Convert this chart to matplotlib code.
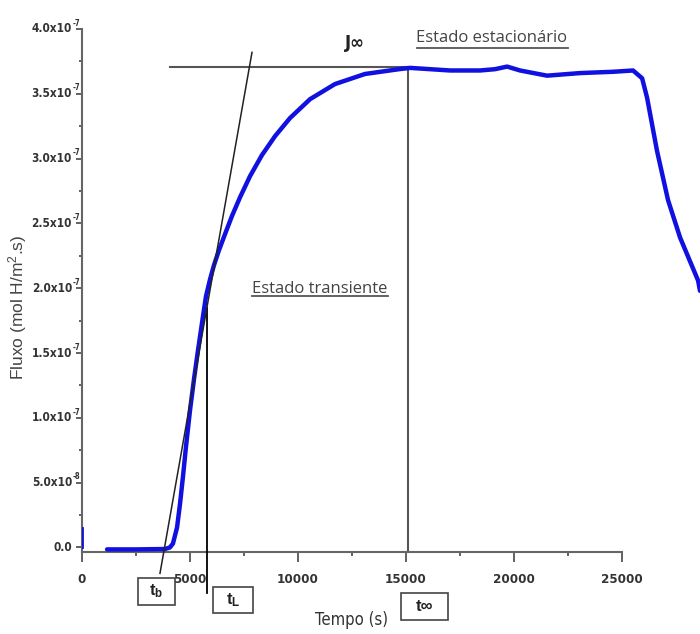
import matplotlib
matplotlib.use("Agg")
import matplotlib.pyplot as plt
from matplotlib import font_manager as fm
from matplotlib.font_manager import FontProperties
from matplotlib.lines import Line2D
from matplotlib.patches import Rectangle
from matplotlib.transforms import blended_transform_factory

plt.rcParams["mathtext.default"] = "regular"

# procura uma fonte estreita (narrow / condensed); senao usa Liberation Sans menor
estreitas = [f for f in fm.fontManager.ttflist
             if f.style == "normal" and ("Narrow" in f.name or "Condensed" in f.name
                 or f.stretch in ("condensed", "semi-condensed", "extra-condensed"))]
negrito = [f for f in estreitas if f.weight in ("bold", 700, "semibold", 600)]
normal = [f for f in estreitas if f.weight in ("normal", 400, "regular")]
if negrito:
    fp_tick = FontProperties(fname=negrito[0].fname, size=9.5)
    fp_ytick = FontProperties(fname=negrito[0].fname, size=8.5)
    fp_exp = FontProperties(fname=negrito[0].fname, size=5.5)
else:
    fp_tick = FontProperties(family="Liberation Sans", weight="bold", size=8.5)
    fp_ytick = FontProperties(family="Liberation Sans", weight="bold", size=7.5)
    fp_exp = FontProperties(family="Liberation Sans", weight="bold", size=5)
if normal:
    fp_eixo = FontProperties(fname=normal[0].fname, size=12)
else:
    fp_eixo = FontProperties(family="Liberation Sans", size=11)

# dados (tempo em s, fluxo em 1e-7 mol H/m2.s)
tempo = [1160, 2500, 3840, 4070, 4210, 4400, 4540, 4680, 4820, 5000, 5190, 5370,
         5560, 5740, 5930, 6110, 6340, 6620, 6940, 7320, 7780, 8330, 8940, 9630,
         10560, 11710, 13100, 14720, 15190, 17040, 18430, 19120, 19680, 20280,
         21530, 23060, 24590, 25510, 25930, 26160, 26620, 27130, 27690, 28520,
         28610]
fluxo = [-0.015, -0.015, -0.012, 0.0, 0.03, 0.154, 0.34, 0.556, 0.788, 1.058,
         1.305, 1.521, 1.737, 1.938, 2.070, 2.178, 2.293, 2.417, 2.556, 2.703,
         2.865, 3.027, 3.174, 3.313, 3.459, 3.575, 3.653, 3.691, 3.70, 3.68, 3.68,
         3.69, 3.71, 3.68, 3.64, 3.66, 3.67, 3.68, 3.62, 3.47, 3.06, 2.68, 2.39,
         2.06, 1.98]
fluxo = [v * 1e-7 for v in fluxo]
# pequeno trecho no inicio (t = 0)
tempo_ini = [0, 0]
fluxo_ini = [0.0, 0.15e-7]

# linhas de construcao
j_inf = 3.71e-7
t_inf = 15100
t_lag = 5790
tang_t = [3610, 7870]
tang_j = [-0.2e-7, 3.82e-7]

xticks = [0, 5000, 10000, 15000, 20000, 25000]
xlabels = ["0", "5000", "10000", "15000", "20000", "25000"]
yticks = [0, 0.5e-7, 1.0e-7, 1.5e-7, 2.0e-7, 2.5e-7, 3.0e-7, 3.5e-7, 4.0e-7]
ylabels = ["0.0", "5.0x10", "1.0x10", "1.5x10", "2.0x10", "2.5x10", "3.0x10",
           "3.5x10", "4.0x10"]
yexpoentes = ["", "-8", "-7", "-7", "-7", "-7", "-7", "-7", "-7"]

fig = plt.figure(figsize=(7, 6.34), dpi=100)
ax = fig.add_axes([82 / 700, 82 / 634, 618 / 700, 523 / 634])
ax.set_xlim(0, 28610)
ax.set_ylim(-0.035e-7, 4.0e-7)

azul = "#1010e0"
ax.plot(tempo, fluxo, color=azul, lw=3.2, solid_capstyle="round", zorder=3)
ax.plot(tempo_ini, fluxo_ini, color=azul, lw=2, zorder=3)

cinza = "#555555"
ax.plot([4070, t_inf], [j_inf, j_inf], color=cinza, lw=1.5, zorder=2)
ax.plot([t_inf, t_inf], [ax.get_ylim()[0], j_inf], color=cinza, lw=1.5, zorder=2)
ax.plot([t_lag, t_lag], [-0.35e-7, 1.85e-7], color="black", lw=1.3, zorder=4, clip_on=False)
ax.plot(tang_t, tang_j, color="#222222", lw=1.1, zorder=4, clip_on=False)

# eixos
for s in ["top", "right"]:
    ax.spines[s].set_visible(False)
for s in ["left", "bottom"]:
    ax.spines[s].set_color("#666666")
    ax.spines[s].set_linewidth(1.5)
ax.spines["bottom"].set_bounds(0, 25000)

ax.set_xticks(xticks)
ax.set_xticklabels(xlabels)
ax.set_xticks([2500, 7500, 12500, 17500, 22500], minor=True)
ax.set_yticks(yticks)
ax.set_yticklabels([])
ax.set_yticks([v + 0.25e-7 for v in yticks[:-1]], minor=True)
ax.tick_params(axis="x", which="major", length=7, width=1.3, color=cinza, pad=8)
ax.tick_params(axis="x", which="minor", length=3, width=1.3, color=cinza)
ax.tick_params(axis="y", which="major", length=4, width=1.3, color=cinza, pad=4)
ax.tick_params(axis="y", which="minor", length=2, width=1.3, color=cinza)
for lab in ax.get_xticklabels():
    lab.set_fontproperties(fp_tick)
    lab.set_color("#333333")

# rotulos do eixo y: mantissa + expoente pequeno
tr = blended_transform_factory(fig.transFigure, ax.transData)
for v, base, ex in zip(yticks, ylabels, yexpoentes):
    ax.text(72 / 700, v, base, transform=tr, ha="right", va="center",
            fontproperties=fp_ytick, color="#333333")
    if ex:
        ax.text(72.5 / 700, v + 0.045e-7, ex, transform=tr, ha="left",
                va="center", fontproperties=fp_exp, color="#333333")

fig.text(18 / 700, 1 - 307 / 634, "Fluxo (mol H/m$^{2}$.s)", rotation=90,
         ha="center", va="center", fontsize=12.5, color="#444444",
         family="Liberation Sans")
fig.text(352 / 700, 1 - 620 / 634, "Tempo (s)", ha="center", va="center",
         fontproperties=fp_eixo, color="#333333")

fig.text(355 / 700, 1 - 43 / 634, "J\u221e", ha="center", va="center",
         fontsize=12, fontweight="bold", color="#222222", family="DejaVu Sans")

# textos sublinhados
fig.canvas.draw()
renderer = fig.canvas.get_renderer()
for txt, xc, yc, yu in [("Estado estacion\u00e1rio", 492, 38, 48),
                        ("Estado transiente", 320, 289, 296)]:
    t = fig.text(xc / 700, 1 - yc / 634, txt, ha="center", va="center",
                 fontsize=12, color="#444444", family="Open Sans")
    bb = t.get_window_extent(renderer)
    fig.add_artist(Line2D([bb.x0 / 700, bb.x1 / 700], [1 - yu / 634, 1 - yu / 634],
                          transform=fig.transFigure, color="#555555", lw=1.3))

# caixas tb, tL, t_inf
for lbl, x0, y0, w, h in [(r"t$_{b}$", 138, 578, 37, 27),
                          (r"t$_{L}$", 213, 587, 40, 26),
                          ("t\u221e", 401, 593, 47, 27)]:
    fig.add_artist(Rectangle((x0 / 700, 1 - (y0 + h) / 634), w / 700, h / 634,
                             transform=fig.transFigure, fill=False,
                             edgecolor="#444444", lw=1.2))
    fig.text((x0 + w / 2) / 700, 1 - (y0 + h / 2) / 634, lbl, ha="center",
             va="center", fontsize=12, fontweight="bold", color="#222222",
             family=["Liberation Sans", "DejaVu Sans"])

fig.savefig("out.png", dpi=100, facecolor="white")
